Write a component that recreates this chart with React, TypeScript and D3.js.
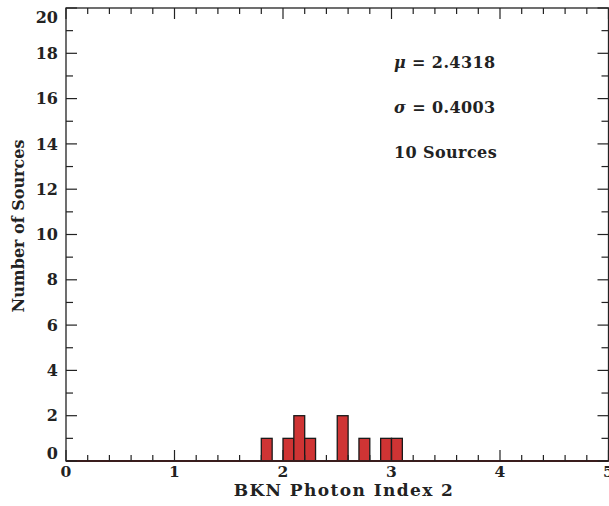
import React from "react";
import * as d3 from "d3";

// histogram bins (left edge) and counts
const binStarts = [1.8, 2.0, 2.1, 2.2, 2.5, 2.7, 2.9, 3.0];
const binCounts = [1, 1, 2, 1, 2, 1, 1, 1];
const binWidth = 0.1;

const xMajor = [0, 1, 2, 3, 4, 5];
const yMajor = [0, 2, 4, 6, 8, 10, 12, 14, 16, 18, 20];

const stats = ["\u03bc = 2.4318", "\u03c3 = 0.4003", "10 Sources"];

const width = 609,
  height = 506;
const margin = { left: 66, right: 0.5, top: 8, bottom: 45 };
const font = "'DejaVu Serif', serif";

const App = () => {
  const x = d3.scaleLinear().domain([0, 5]).range([margin.left, width - margin.right]);
  const y = d3.scaleLinear().domain([0, 20]).range([height - margin.bottom, margin.top]);
  const x0 = x.range()[0], x1 = x.range()[1];
  const y0 = y.range()[0], y1 = y.range()[1];

  const xMinor = d3.range(0, 5.001, 0.2).filter((v) => Math.abs(v - Math.round(v)) > 1e-6);
  const yMinor = d3.range(1, 20, 2);
  const ax = "#222";

  return (
    <svg width={width} height={height} style={{ position: "absolute", left: 0, top: 0 }}>
      <rect width={width} height={height} fill="#fff" />
      {binStarts.map((b, i) => (
        <rect
          key={i}
          x={x(b)}
          y={y(binCounts[i])}
          width={x(b + binWidth) - x(b)}
          height={y(0) - y(binCounts[i])}
          fill="#cf3434"
          stroke="#1a1a1a"
          strokeWidth={1.3}
        />
      ))}
      {/* frame */}
      <rect x={x0} y={y1} width={x1 - x0} height={y0 - y1} fill="none" stroke={ax} strokeWidth={1.3} />
      <line x1={x0} x2={x1} y1={y0} y2={y0} stroke="#3a1d1d" strokeWidth={2} />
      {/* x ticks bottom & top */}
      {xMajor.map((v) => (
        <g key={"xm" + v}>
          <line x1={x(v)} x2={x(v)} y1={y0} y2={y0 - 11} stroke={ax} strokeWidth={1.2} />
          <line x1={x(v)} x2={x(v)} y1={y1} y2={y1 + 11} stroke={ax} strokeWidth={1.2} />
          <text x={x(v)} y={y0 + 16} textAnchor="middle" fontFamily={font} fontWeight="bold" fontSize={15.5} fill="#222">
            {v}
          </text>
        </g>
      ))}
      {xMinor.map((v, i) => (
        <g key={"xn" + i}>
          <line x1={x(v)} x2={x(v)} y1={y0} y2={y0 - 6} stroke={ax} strokeWidth={1.2} />
          <line x1={x(v)} x2={x(v)} y1={y1} y2={y1 + 6} stroke={ax} strokeWidth={1.2} />
        </g>
      ))}
      {/* y ticks left & right */}
      {yMajor.map((v) => (
        <g key={"ym" + v}>
          <line x1={x0} x2={x0 + 11} y1={y(v)} y2={y(v)} stroke={ax} strokeWidth={1.2} />
          <line x1={x1} x2={x1 - 11} y1={y(v)} y2={y(v)} stroke={ax} strokeWidth={1.2} />
          <text
            x={x0 - 8}
            y={y(v) + (v === 0 ? -8 : v === 20 ? 9 : 0)}
            dy="0.35em"
            textAnchor="end"
            fontFamily={font}
            fontWeight="bold"
            fontSize={16}
            fill="#222"
          >
            {v}
          </text>
        </g>
      ))}
      {yMinor.map((v) => (
        <g key={"yn" + v}>
          <line x1={x0} x2={x0 + 7} y1={y(v)} y2={y(v)} stroke={ax} strokeWidth={1.2} />
          <line x1={x1} x2={x1 - 7} y1={y(v)} y2={y(v)} stroke={ax} strokeWidth={1.2} />
        </g>
      ))}
      {/* axis titles */}
      <text x={344} y={height - 10} textAnchor="middle" fontFamily={font} fontWeight="bold" fontSize={17} letterSpacing={1.4} fill="#222">
        BKN Photon Index 2
      </text>
      <text
        transform={`translate(24, ${226}) rotate(-90)`}
        textAnchor="middle"
        fontFamily={font}
        fontWeight="bold"
        fontSize={16}
        fill="#222"
      >
        Number of Sources
      </text>
      {/* annotations */}
      {stats.map((s, i) => (
        <text key={s} x={394} y={68 + i * 45} fontFamily={font} fontWeight="bold" fontSize={16} letterSpacing={0.4} fill="#222">
          {i < 2 ? (
            <>
              <tspan fontStyle="italic">{s.slice(0, 1)}</tspan>
              {s.slice(1)}
            </>
          ) : (
            s
          )}
        </text>
      ))}
    </svg>
  );
};

export default App;
